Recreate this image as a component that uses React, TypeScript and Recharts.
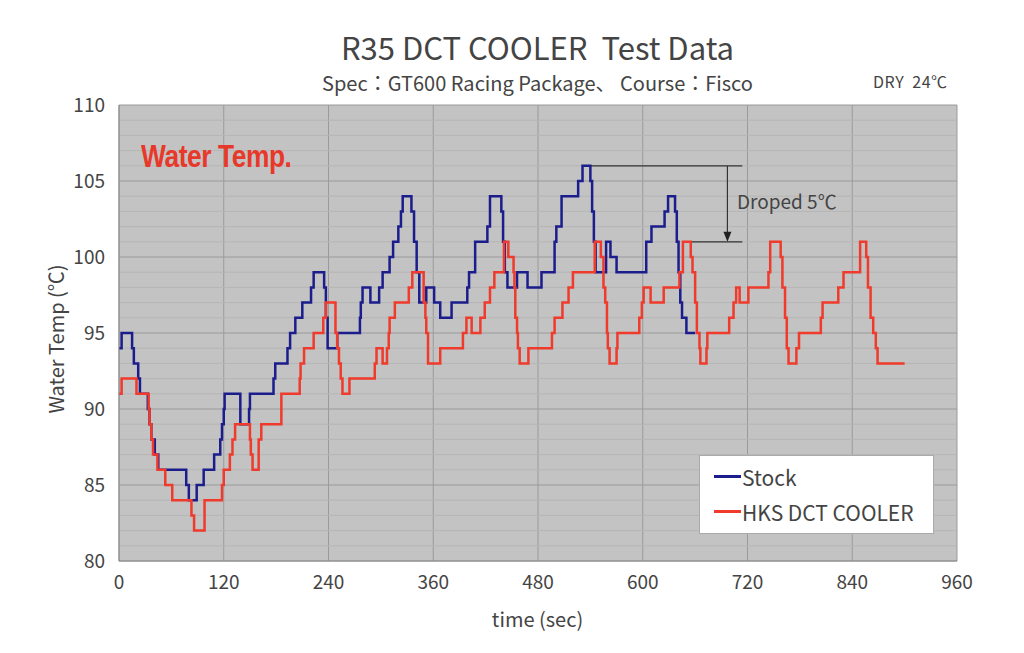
import {
  LineChart,
  Line,
  XAxis,
  YAxis,
  CartesianGrid,
  ReferenceLine,
  ReferenceDot,
  Legend,
} from "recharts";

// time (sec) / water temp (℃)
const stockTime = [0, 3, 15, 17, 22, 24, 33, 35, 37, 41, 45, 77, 80, 89, 97, 109, 116, 118, 120, 121, 139, 149, 150, 177, 179, 193, 196, 202, 210, 220, 223, 235, 237, 239, 250, 276, 277, 279, 288, 298, 302, 310, 314, 320, 323, 325, 335, 338, 341, 344, 352, 361, 368, 381, 399, 401, 408, 422, 425, 438, 440, 442, 445, 456, 468, 484, 499, 501, 507, 526, 531, 540, 542, 544, 546, 558, 563, 570, 604, 610, 625, 629, 637, 639, 641, 643, 645, 650, 660];
const stockTemp = [94, 95, 94, 93, 92, 91, 90, 89, 88, 87, 86, 85, 84, 85, 86, 87, 88, 89, 90, 91, 89, 90, 91, 92, 93, 94, 95, 96, 97, 98, 99, 98, 96, 94, 95, 96, 97, 98, 97, 98, 99, 100, 101, 102, 103, 104, 103, 101, 99, 97, 98, 97, 96, 97, 98, 99, 101, 102, 104, 103, 101, 99, 98, 99, 98, 99, 101, 102, 104, 105, 106, 105, 103, 101, 99, 101, 100, 99, 101, 102, 103, 104, 103, 101, 99, 97, 96, 95, 95];

const hksTime = [0, 3, 20, 34, 35, 37, 39, 44, 53, 61, 83, 86, 98, 118, 120, 127, 130, 133, 150, 151, 153, 160, 163, 186, 207, 208, 212, 223, 234, 237, 248, 250, 252, 254, 256, 264, 293, 295, 302, 307, 309, 310, 316, 332, 336, 349, 351, 352, 354, 368, 394, 398, 404, 414, 419, 425, 430, 441, 446, 452, 453, 454, 456, 457, 459, 469, 496, 499, 508, 515, 520, 545, 552, 555, 557, 559, 560, 562, 570, 571, 596, 599, 601, 609, 624, 642, 646, 655, 657, 660, 662, 665, 666, 673, 674, 699, 704, 707, 711, 721, 744, 746, 758, 760, 763, 765, 767, 776, 779, 804, 806, 824, 830, 849, 856, 858, 861, 864, 867, 869, 900];
const hksTemp = [91, 92, 91, 90, 89, 88, 87, 86, 85, 84, 83, 82, 84, 85, 86, 87, 88, 89, 88, 87, 86, 88, 89, 91, 92, 93, 94, 95, 96, 97, 95, 94, 93, 92, 91, 92, 93, 94, 93, 94, 95, 96, 97, 98, 99, 97, 96, 95, 93, 94, 95, 96, 95, 96, 97, 98, 99, 101, 100, 99, 98, 96, 95, 94, 93, 94, 95, 96, 97, 98, 99, 101, 100, 98, 97, 95, 94, 93, 94, 95, 96, 97, 98, 97, 98, 99, 101, 100, 99, 97, 95, 94, 93, 94, 95, 96, 97, 98, 97, 98, 99, 101, 100, 98, 96, 94, 93, 94, 95, 96, 97, 98, 99, 101, 100, 98, 96, 95, 94, 93, 93];

const xTicks = [0, 120, 240, 360, 480, 600, 720, 840, 960];
const yTicks = [80, 85, 90, 95, 100, 105, 110];
const minorTemps = [81, 82, 83, 84, 86, 87, 88, 89, 91, 92, 93, 94, 96, 97, 98, 99, 101, 102, 103, 104, 106, 107, 108, 109];

// "Droped 5℃" annotation
const dropTop = { from: 534, to: 714, temp: 106 };
const dropBottom = { from: 650, to: 714, temp: 101 };
const dropArrowTime = 697;

const seriesNames = ["Stock", "HKS DCT COOLER"];
const seriesColors = ["#1b1d8c", "#f03a2b"];

const stockData = stockTime.map((t, i) => ({ t, temp: stockTemp[i] }));
const hksData = hksTime.map((t, i) => ({ t, temp: hksTemp[i] }));

const FONT = '"Noto Sans CJK JP", "Noto Sans", sans-serif';

const ArrowHead = (props: any) => {
  const { cx, cy } = props;
  return <path d={`M${cx - 4},${cy - 10} L${cx + 4},${cy - 10} L${cx},${cy} Z`} fill="#222" />;
};

const LegendBox = () => (
  <div
    style={{
      width: 235,
      height: 79,
      background: "#fff",
      border: "1px solid #aaa",
      boxSizing: "border-box",
      padding: "3px 0 0 14px",
      fontFamily: FONT,
      fontSize: 21,
      color: "#444",
    }}
  >
    {seriesNames.map((name, i) => (
      <div key={name} style={{ display: "flex", alignItems: "center", height: 35 }}>
        <span style={{ display: "inline-block", width: 27, height: 3, background: seriesColors[i] }} />
        <span style={{ marginLeft: 1 }}>{name}</span>
      </div>
    ))}
  </div>
);

export default function App() {
  return (
    <div style={{ position: "absolute", left: 0, top: 0, width: 1024, height: 653, background: "#fff", fontFamily: FONT }}>
      <div style={{ position: "absolute", left: 0, width: 1075, top: 24, textAlign: "center", fontSize: 31, color: "#444" }}>
        R35 DCT COOLER&nbsp;&nbsp;Test Data
      </div>
      <div style={{ position: "absolute", left: 0, width: 1075, top: 68, textAlign: "center", fontSize: 20, color: "#444" }}>
        Spec：GT600 Racing Package、 Course：Fisco
      </div>
      <div style={{ position: "absolute", left: 873, top: 69, fontSize: 16, color: "#444", letterSpacing: 0.5 }}>
        DRY&nbsp;&nbsp;24℃
      </div>
      <div style={{ position: "absolute", left: 0, width: 1075, top: 604, textAlign: "center", fontSize: 20, color: "#444" }}>
        time (sec)
      </div>
      <div
        style={{
          position: "absolute",
          left: 55,
          top: 339,
          transform: "translate(-50%, -50%) rotate(-90deg)",
          whiteSpace: "nowrap",
          fontSize: 20,
          color: "#444",
        }}
      >
        Water Temp (℃)
      </div>

      <LineChart width={1024} height={653} margin={{ top: 105, right: 67, bottom: 52, left: 49 }}>
        <CartesianGrid fill="#c3c3c3" fillOpacity={1} stroke="#9a9a9a" />
        {minorTemps.map((v) => (
          <ReferenceLine key={v} y={v} stroke="#b6b6b6" strokeWidth={1} />
        ))}
        <XAxis
          dataKey="t"
          type="number"
          domain={[0, 960]}
          ticks={xTicks}
          allowDataOverflow
          height={40}
          tickLine={false}
          axisLine={{ stroke: "#8a8a8a" }}
          tickMargin={9}
          tick={{ fill: "#444", fontSize: 19, fontFamily: FONT }}
        />
        <YAxis
          type="number"
          domain={[80, 110]}
          ticks={yTicks}
          allowDataOverflow
          width={70}
          tickLine={false}
          axisLine={{ stroke: "#8a8a8a" }}
          tickMargin={8}
          tick={{ fill: "#444", fontSize: 19, fontFamily: FONT }}
        />
        <ReferenceLine
          segment={[{ x: dropTop.from, y: dropTop.temp }, { x: dropTop.to, y: dropTop.temp }]}
          stroke="#333"
          strokeWidth={1.2}
        />
        <ReferenceLine
          segment={[{ x: dropBottom.from, y: dropBottom.temp }, { x: dropBottom.to, y: dropBottom.temp }]}
          stroke="#333"
          strokeWidth={1.2}
        />
        <ReferenceLine
          segment={[{ x: dropArrowTime, y: dropTop.temp }, { x: dropArrowTime, y: dropBottom.temp + 0.4 }]}
          stroke="#333"
          strokeWidth={1.2}
        />
        <ReferenceDot x={dropArrowTime} y={dropBottom.temp} r={4} shape={ArrowHead} />
        <Line
          data={stockData}
          type="stepAfter"
          dataKey="temp"
          name={seriesNames[0]}
          stroke={seriesColors[0]}
          strokeWidth={2.5}
          dot={false}
          isAnimationActive={false}
        />
        <Line
          data={hksData}
          type="stepAfter"
          dataKey="temp"
          name={seriesNames[1]}
          stroke={seriesColors[1]}
          strokeWidth={2.5}
          dot={false}
          isAnimationActive={false}
        />
        <Legend
          layout="vertical"
          align="center"
          verticalAlign="middle"
          content={<LegendBox />}
          wrapperStyle={{ left: 699, top: 455, width: 235, height: 79 }}
        />
      </LineChart>

      <div
        style={{
          position: "absolute",
          left: 141,
          top: 139,
          fontFamily: '"Liberation Sans", "DejaVu Sans", sans-serif',
          fontWeight: 700,
          fontSize: 31,
          color: "#e8382a",
          transform: "scaleX(0.85)",
          transformOrigin: "left center",
          whiteSpace: "nowrap",
          letterSpacing: -0.5,
        }}
      >
        Water Temp.
      </div>
      <div style={{ position: "absolute", left: 737, top: 187, fontSize: 19, color: "#444" }}>Droped 5℃</div>
    </div>
  );
}
